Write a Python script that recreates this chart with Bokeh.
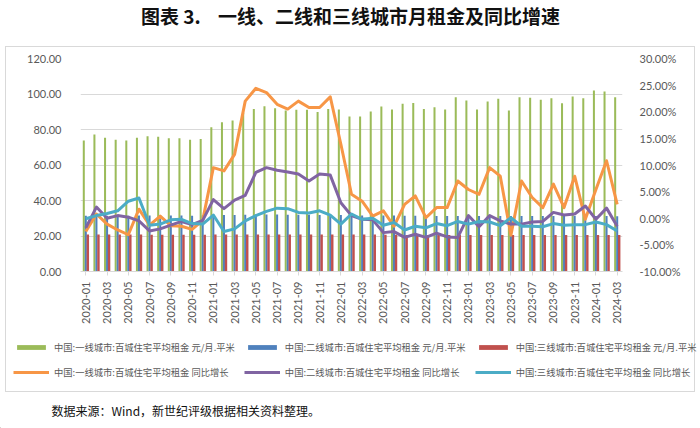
import math
from bokeh.plotting import figure
from bokeh.layouts import column
from bokeh.models import (Range1d, LinearAxis, FixedTicker, PrintfTickFormatter, Legend,
                          LegendItem, Label, ColumnDataSource)
from bokeh.transform import dodge
from bokeh.embed import file_html
from bokeh.resources import INLINE

months = [f"{y}-{m:02d}" for y in range(2020, 2025) for m in range(1, 13)][:51]

tier1_rent = [73.8, 77.2, 75.3, 74.2, 73.8, 75.3, 76.2, 75.9, 75.1, 75.1, 74.2, 74.7,
              81.3, 84.1, 85.1, 89.5, 91.6, 93.1, 92.0, 90.7, 91.1, 91.1, 89.8, 91.6,
              91.3, 87.3, 87.3, 90.1, 93.0, 91.3, 94.5, 95.0, 91.6, 92.6, 91.3, 98.2,
              96.3, 91.3, 95.8, 97.3, 90.7, 98.2, 97.9, 96.7, 97.6, 94.8, 98.6, 97.6,
              102.0, 101.4, 98.2]
tier2_rent = [31.4, 31.5, 31.4, 31.4, 31.4, 31.5, 31.5, 31.5, 31.5, 31.5, 31.4, 31.5,
              31.7, 31.8, 31.9, 32.0, 32.1, 32.1, 32.1, 32.0, 32.0, 32.0, 31.9, 31.9,
              31.8, 31.7, 31.6, 31.6, 31.5, 31.5, 31.4, 31.4, 31.3, 31.3, 31.3, 31.2,
              31.3, 31.3, 31.3, 31.3, 31.2, 31.2, 31.2, 31.2, 31.2, 31.2, 31.2, 31.2,
              31.2, 31.2, 31.1]
tier3_rent = [20.8, 20.8, 20.8, 20.8, 20.8, 20.8, 20.7, 20.7, 20.7, 20.7, 20.7, 20.7,
              20.8, 20.8, 20.8, 20.8, 20.8, 20.8, 20.9, 20.9, 20.9, 20.9, 20.9, 20.9,
              20.8, 20.8, 20.8, 20.8, 20.7, 20.7, 20.6, 20.6, 20.6, 20.6, 20.6, 20.6,
              20.6, 20.6, 20.6, 20.6, 20.6, 20.6, 20.6, 20.6, 20.6, 20.6, 20.6, 20.6,
              20.6, 20.6, 20.5]
tier1_yoy = [-2.5, 0.8, -1.1, -2.2, -3.1, 1.7, -1.3, 0.4, -1.4, -1.5, -2.1, -0.4,
             9.5, 8.9, 12.0, 22.0, 24.4, 23.6, 21.4, 20.5, 22.0, 20.8, 20.8, 22.8,
             13.9, 4.5, 3.2, 0.4, 1.4, -1.5, 2.6, 4.2, 0.1, 2.0, 2.0, 7.0,
             5.4, 4.5, 9.5, 7.9, -3.2, 7.0, 3.9, 2.0, 6.4, 2.0, 7.9, -0.2,
             5.4, 10.8, 2.6]
tier2_yoy = [-1.8, 2.1, 0.0, 0.5, 0.2, -0.5, -2.4, -2.0, -1.3, -0.6, -1.2, -0.4,
             3.5, 1.8, 3.4, 4.3, 8.6, 9.5, 9.0, 8.7, 8.3, 7.0, 8.3, 8.1,
             2.9, 0.5, -0.2, -0.3, -2.7, -2.5, -3.6, -3.0, -3.6, -2.8, -3.5, -3.6,
             0.5, -1.6, 0.5, -0.5, -1.1, -1.1, -0.7, -0.6, 1.1, 0.6, 0.8, 2.3,
             -0.2, 1.9, -1.5]
tier3_yoy = [-0.1, 0.5, 0.9, 1.4, 3.2, 3.8, -1.3, -1.1, -0.3, -0.2, -1.0, -1.1,
             0.6, -2.5, -2.0, -0.5, 0.5, 1.3, 1.9, 1.8, 1.1, 1.0, 1.4, 0.6,
             -1.1, 0.8, -0.2, 0.0, -1.3, -0.8, -2.2, -1.5, -1.8, -1.0, -1.4, -0.6,
             -1.1, -0.6, -0.7, -1.4, 0.1, -1.5, -1.5, -1.6, -1.0, -1.3, -1.2, -1.2,
             -0.7, -1.2, -2.4]

labels = ["中国:一线城市:百城住宅平均租金 元/月.平米",
          "中国:二线城市:百城住宅平均租金 元/月.平米",
          "中国:三线城市:百城住宅平均租金 元/月.平米",
          "中国:一线城市:百城住宅平均租金 同比增长",
          "中国:二线城市:百城住宅平均租金 同比增长",
          "中国:三线城市:百城住宅平均租金 同比增长"]
colors = ["#9BBB59", "#4F81BD", "#C0504D", "#F79646", "#8064A2", "#4BACC6"]
title_text = "图表 3.\u00a0\u00a0\u00a0\u00a0一线、二线和三线城市月租金及同比增速"
source_text = "数据来源：Wind，新世纪评级根据相关资料整理。"

x = list(range(len(months)))
src = ColumnDataSource(dict(x=x, r1=tier1_rent, r2=tier2_rent, r3=tier3_rent,
                            y1=tier1_yoy, y2=tier2_yoy, y3=tier3_yoy))

FONT = "Lato"
CJK = "Noto Sans CJK SC"
GREY = "#595959"
LINE = "linear-gradient(#d9d9d9,#d9d9d9)"


def blank(h):
    f = figure(width=700, height=h, output_backend="svg", toolbar_location=None,
               x_range=Range1d(0, 700), y_range=Range1d(0, h),
               x_axis_location=None, y_axis_location=None,
               min_border=0, min_border_left=0, min_border_right=0,
               min_border_top=0, min_border_bottom=0,
               background_fill_alpha=0, border_fill_alpha=0, frame_align=False)
    f.outline_line_color = None
    f.xgrid.visible = False
    f.ygrid.visible = False
    return f


# ---- header (title) ----
H_HEAD = 46
head = blank(H_HEAD)
head.styles = {"background-color": "white"}
head.add_layout(Label(x=350, y=H_HEAD - 15, text=title_text, text_align="center",
                      text_baseline="middle", text_font=CJK, text_font_size="19px",
                      text_font_style="bold", text_color="#111111"))

# ---- main chart ----
H_MAIN = 284
p = figure(width=700, height=H_MAIN, output_backend="svg", toolbar_location=None,
           x_range=Range1d(-0.5, len(months) - 0.5), y_range=Range1d(0, 120),
           min_border_left=80, min_border_right=78, min_border_top=12, min_border_bottom=59,
           background_fill_color="white", border_fill_alpha=0, frame_align=False)
p.outline_line_color = None
p.extra_y_ranges = {"pct": Range1d(-10, 30)}
p.styles = {
    "background-color": "white",
    "background-image": f"{LINE},{LINE},{LINE}",
    "background-size": f"690px 1px, 1px {H_MAIN}px, 1px {H_MAIN}px",
    "background-position": "5px 0px, 5px 0px, 694px 0px",
    "background-repeat": "no-repeat",
}

ya = p.yaxis[0]
ya.ticker = FixedTicker(ticks=[0, 20, 40, 60, 80, 100, 120])
ya.formatter = PrintfTickFormatter(format="%.2f")
ra = LinearAxis(y_range_name="pct", ticker=FixedTicker(ticks=[-10, -5, 0, 5, 10, 15, 20, 25, 30]),
                formatter=PrintfTickFormatter(format="%.2f%%"))
p.add_layout(ra, "right")
for ax, so in ((ya, 13), (ra, 11)):
    ax.axis_line_color = None
    ax.major_tick_line_color = None
    ax.minor_tick_line_color = None
    ax.major_label_text_color = GREY
    ax.major_label_text_font = FONT
    ax.major_label_text_font_size = "11px"
    ax.major_label_standoff = so

xa = p.xaxis[0]
xa.ticker = FixedTicker(ticks=x[::2])
xa.major_label_overrides = {i: months[i] for i in x[::2]}
xa.major_label_orientation = math.pi / 2
xa.major_label_text_color = GREY
xa.major_label_text_font = FONT
xa.major_label_text_font_size = "11px"
xa.major_label_standoff = 6
xa.axis_line_color = "#d9d9d9"
xa.major_tick_line_color = "#d9d9d9"
xa.major_tick_in = 0
xa.major_tick_out = 4
xa.minor_tick_line_color = None

p.xgrid.visible = False
p.ygrid.ticker = FixedTicker(ticks=[0, 20, 40, 60, 80, 100, 120])
p.ygrid.grid_line_color = "#d9d9d9"

bw = 0.19
p.vbar(x=dodge("x", -bw, range=p.x_range), top="r1", width=bw, source=src,
       fill_color=colors[0], line_color=None)
p.vbar(x=dodge("x", 0, range=p.x_range), top="r2", width=bw, source=src,
       fill_color=colors[1], line_color=None)
p.vbar(x=dodge("x", bw, range=p.x_range), top="r3", width=bw * 1.2, source=src,
       fill_color=colors[2], line_color=None)
for col, c in zip(["y1", "y2", "y3"], colors[3:]):
    p.line("x", col, source=src, y_range_name="pct", line_color=c, line_width=3,
           line_join="round")

# ---- legend + source ----
H_LEG = 98
leg = blank(H_LEG)
leg.styles = {
    "background-color": "white",
    "background-image": f"{LINE},{LINE},{LINE}",
    "background-size": "690px 1px, 1px 62px, 1px 62px",
    "background-position": "5px 61px, 5px 0px, 694px 0px",
    "background-repeat": "no-repeat",
}
# legend proxies: one point each, placed outside the visible range
proxies = []
for i, c in enumerate(colors):
    if i < 3:
        proxies.append(leg.vbar(x=[-1000], top=[1], width=1, fill_color=c, line_color=None))
    else:
        proxies.append(leg.line(x=[-1000, -999], y=[1, 1], line_color=c, line_width=3))
items = [LegendItem(label=lab, renderers=[r]) for lab, r in zip(labels, proxies)]
legend = Legend(items=items, orientation="horizontal", ncols=3, location=(13, 48),
                glyph_width=36, glyph_height=6, label_height=16, spacing=9, padding=0,
                margin=0, label_standoff=5, border_line_color=None, background_fill_alpha=0,
                label_text_font=CJK, label_text_font_size="9.3px", label_text_color=GREY)
leg.add_layout(legend)
leg.add_layout(Label(x=51, y=H_LEG - 80, text=source_text, text_align="left",
                     text_baseline="middle", text_font=CJK, text_font_size="12px",
                     text_color="#111111"))

layout = column(head, p, leg, spacing=0)
open("out.html", "w").write(file_html(layout, INLINE))
